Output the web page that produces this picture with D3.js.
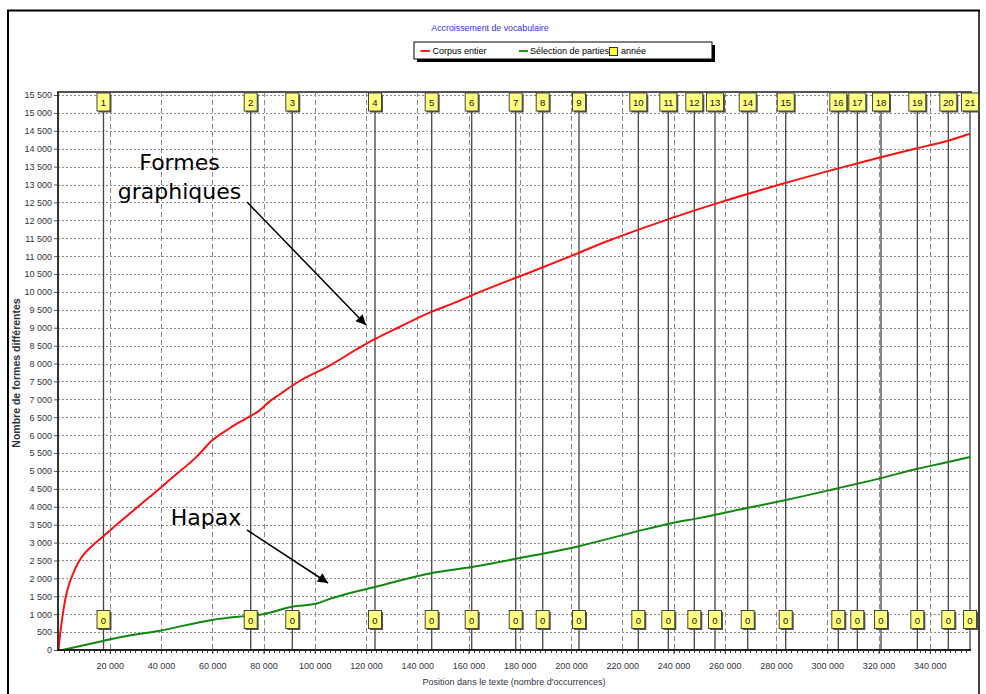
<!DOCTYPE html>
<html><head><meta charset="utf-8">
<script src="https://cdn.jsdelivr.net/npm/d3@7"></script>
<style>body{margin:0;background:#fff}svg{display:block}</style>
</head><body>
<svg id="c" width="986" height="694"></svg>
<script>
// ---- data ----
const chartTitle = "Accroissement de vocabulaire";
const seriesNames = ["Corpus entier", "Sélection de parties", "année"];
const xTitle = "Position dans le texte (nombre d'occurrences)";
const yTitle = "Nombre de formes différentes";
const xTickValues = [20000,40000,60000,80000,100000,120000,140000,160000,180000,200000,220000,240000,260000,280000,300000,320000,340000];
const yTickValues = [0,500,1000,1500,2000,2500,3000,3500,4000,4500,5000,5500,6000,6500,7000,7500,8000,8500,9000,9500,10000,10500,11000,11500,12000,12500,13000,13500,14000,14500,15000,15500];
const corpusPos = [0,900,1900,2900,4200,5800,7800,10200,13000,16200,18150,22050,29850,37660,45460,53660,59900,66930,72780,78630,82500,86500,92680,105950,117660,124000,132450,145700,154700,164490,182360,199920,213580,234730,258140,281550,306920,334240,346000,355700];
const corpusVal = [0,600,1100,1500,1850,2150,2450,2700,2900,3100,3220,3460,3930,4400,4880,5380,5850,6200,6450,6700,6950,7150,7450,7950,8450,8700,9000,9450,9700,10000,10500,11000,11400,11950,12500,13000,13500,14000,14200,14420];
const selPos = [1370,17760,24000,39600,59900,74730,79800,91140,100900,104800,113800,123500,145700,161300,180100,203100,226100,237800,250300,269100,283900,304200,321000,335100,347200,355700];
const selVal = [0,260,355,540,840,960,1000,1210,1300,1400,1590,1760,2150,2320,2570,2900,3320,3520,3690,3970,4190,4520,4800,5060,5250,5390];
const yearLabels = ["1","2","3","4","5","6","7","8","9","10","11","12","13","14","15","16","17","18","19","20","21"];
const yearPos = [17561,75005,91239,123512,145639,161249,178420,188956,203122,226263,237971,248117,256195,268956,283785,304312,311727,320976,335142,347239,355707];
const yearBottom = ["0","0","0","0","0","0","0","0","0","0","0","0","0","0","0","0","0","0","0","0","0"];
const annotations = [
  {lines:["Formes","graphiques"]},
  {lines:["Hapax"]}
];

// ---- drawing ----
const svg = d3.select("#c");
const font = "'Liberation Sans', Arial, sans-serif";
const x = d3.scaleLinear().domain([0, 355700]).range([58.5, 970]);
const y = d3.scaleLinear().domain([0, 15500]).range([650, 95]);
const fmt = v => d3.format(",")(v).replace(/,/g, " ");

// outer frame
svg.append("line").attr("x1",8).attr("x2",8).attr("y1",10).attr("y2",694).attr("stroke","#000").attr("stroke-width",2);
svg.append("line").attr("x1",7).attr("x2",980).attr("y1",10.5).attr("y2",10.5).attr("stroke","#000").attr("stroke-width",2);
svg.append("line").attr("x1",979).attr("x2",979).attr("y1",10).attr("y2",694).attr("stroke","#000").attr("stroke-width",1.5);

// title
svg.append("text").attr("x",490).attr("y",31).attr("text-anchor","middle")
  .attr("font-family",font).attr("font-size",8.8).attr("fill","#3333ee").text(chartTitle);

// legend
const lg = svg.append("g");
lg.append("rect").attr("x",417).attr("y",45).attr("width",298).attr("height",17).attr("fill","#000");
lg.append("rect").attr("x",414).attr("y",42).attr("width",298).attr("height",17).attr("fill","#fff").attr("stroke","#000").attr("stroke-width",1);
lg.append("line").attr("x1",420.5).attr("x2",430).attr("y1",51).attr("y2",51).attr("stroke","#ff2020").attr("stroke-width",2);
lg.append("text").attr("x",432.5).attr("y",54).attr("font-family",font).attr("font-size",9).attr("fill","#000").text(seriesNames[0]);
lg.append("line").attr("x1",519).attr("x2",528).attr("y1",51).attr("y2",51).attr("stroke","#1a9a1a").attr("stroke-width",2);
lg.append("text").attr("x",530).attr("y",54).attr("font-family",font).attr("font-size",9).attr("fill","#000").text(seriesNames[1]);
lg.append("rect").attr("x",609.5).attr("y",47.5).attr("width",8).attr("height",8).attr("fill","#ffff33").attr("stroke","#333");
lg.append("text").attr("x",621).attr("y",54).attr("font-family",font).attr("font-size",9).attr("fill","#000").text(seriesNames[2]);

// grid
const g = svg.append("g");
g.selectAll(".hg").data(yTickValues.filter(v=>v>0)).join("line")
  .attr("x1",58).attr("x2",970).attr("y1",d=>Math.round(y(d))+0.5).attr("y2",d=>Math.round(y(d))+0.5)
  .attr("stroke","#8a8a8a").attr("stroke-width",1).attr("stroke-dasharray","2,2");
g.selectAll(".vg").data(xTickValues).join("line")
  .attr("x1",d=>Math.round(x(d))+0.5).attr("x2",d=>Math.round(x(d))+0.5).attr("y1",92).attr("y2",650)
  .attr("stroke","#8a8a8a").attr("stroke-width",1).attr("stroke-dasharray","5,3");

// plot top border
svg.append("line").attr("x1",57).attr("x2",972).attr("y1",92).attr("y2",92).attr("stroke","#555").attr("stroke-width",2);

// year marker lines
svg.selectAll(".yl").data(yearPos).join("line")
  .attr("x1",d=>x(d)).attr("x2",d=>x(d)).attr("y1",92).attr("y2",650)
  .attr("stroke","#444").attr("stroke-width",1.3);

// series
const line = d3.line().x(d=>x(d[0])).y(d=>y(d[1])).curve(d3.curveMonotoneX);
svg.append("path").attr("d", line(d3.zip(selPos, selVal))).attr("fill","none").attr("stroke","#118811").attr("stroke-width",2);
svg.append("path").attr("d", line(d3.zip(corpusPos, corpusVal))).attr("fill","none").attr("stroke","#ff1010").attr("stroke-width",2);

// year boxes
function boxes(labels, top) {
  const bg = svg.append("g");
  labels.forEach((lab, i) => {
    const cx = x(yearPos[i]);
    const w = lab.length > 1 ? 17 : 13;
    const h = 18;
    bg.append("rect").attr("x",cx-w/2+1.5).attr("y",top+1.5).attr("width",w).attr("height",h).attr("fill","#555");
    bg.append("rect").attr("x",cx-w/2).attr("y",top).attr("width",w).attr("height",h)
      .attr("fill","#ffff80").attr("stroke","#444").attr("stroke-width",1);
    bg.append("text").attr("x",cx).attr("y",top+13).attr("text-anchor","middle")
      .attr("font-family",font).attr("font-size",9.5).attr("fill","#111").text(lab);
  });
}
boxes(yearLabels, 93);
boxes(yearBottom, 610.5);

// axes
svg.append("line").attr("x1",58).attr("x2",58).attr("y1",92).attr("y2",651).attr("stroke","#333").attr("stroke-width",2);
svg.append("line").attr("x1",57).attr("x2",971).attr("y1",650).attr("y2",650).attr("stroke","#222").attr("stroke-width",2);

const yAxis = d3.axisLeft(y).tickValues(yTickValues).tickFormat(fmt).tickSize(3).tickPadding(2);
const ya = svg.append("g").attr("transform","translate(57,0)").call(yAxis);
ya.select(".domain").remove();
ya.selectAll("text").attr("font-family",font).attr("font-size",9).attr("fill","#333340");
ya.selectAll("line").attr("stroke","#555");

const minor = d3.range(2000, 355700, 2000);
svg.selectAll(".mt").data(minor).join("line")
  .attr("x1",d=>Math.round(x(d))+0.5).attr("x2",d=>Math.round(x(d))+0.5).attr("y1",650).attr("y2",653)
  .attr("stroke","#333").attr("stroke-width",1);
const xAxis = d3.axisBottom(x).tickValues(xTickValues).tickFormat(fmt).tickSize(4).tickPadding(9);
const xa = svg.append("g").attr("transform","translate(0,650)").call(xAxis);
xa.select(".domain").remove();
xa.selectAll("text").attr("font-family",font).attr("font-size",9).attr("fill","#333340");
xa.selectAll("line").attr("stroke","#333");

// axis titles
svg.append("text").attr("x",514).attr("y",685).attr("text-anchor","middle")
  .attr("font-family",font).attr("font-size",9).attr("fill","#333340").text(xTitle);
svg.append("text").attr("transform","translate(20,373) rotate(-90)").attr("text-anchor","middle")
  .attr("font-family",font).attr("font-size",10.5).attr("font-weight","bold").attr("fill","#333340").text(yTitle);

// annotations
const afont = "'DejaVu Sans', Verdana, sans-serif";
svg.append("defs").append("marker").attr("id","ah").attr("viewBox","0 0 10 10").attr("refX",10).attr("refY",5)
  .attr("markerWidth",13).attr("markerHeight",10).attr("markerUnits","userSpaceOnUse").attr("orient","auto")
  .append("path").attr("d","M0,0 L10,5 L0,10 z").attr("fill","#000");
const a1 = svg.append("text").attr("font-family",afont).attr("font-size",22).attr("fill","#000").attr("text-anchor","middle");
a1.append("tspan").attr("x",179.5).attr("y",170).text(annotations[0].lines[0]);
a1.append("tspan").attr("x",179.5).attr("y",199).text(annotations[0].lines[1]);
svg.append("line").attr("x1",247).attr("y1",202).attr("x2",366).attr("y2",325).attr("stroke","#000").attr("stroke-width",1.5).attr("marker-end","url(#ah)");
svg.append("text").attr("x",206).attr("y",525).attr("text-anchor","middle").attr("font-family",afont).attr("font-size",22).attr("fill","#000").text(annotations[1].lines[0]);
svg.append("line").attr("x1",247).attr("y1",530).attr("x2",328).attr("y2",583).attr("stroke","#000").attr("stroke-width",1.5).attr("marker-end","url(#ah)");
</script>
</body></html>
